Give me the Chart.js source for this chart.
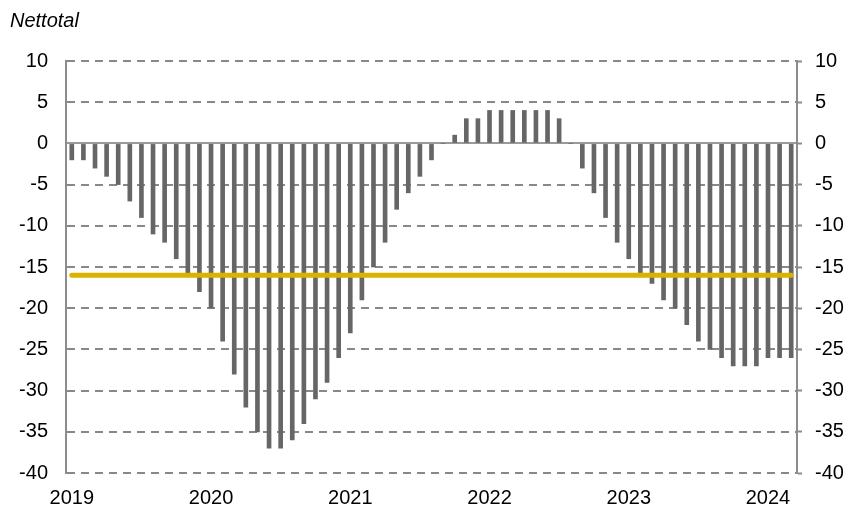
<!DOCTYPE html>
<html lang="sv">
<head>
    <meta charset="UTF-8">
    <title>Nettotal</title>
    <script src="https://cdn.jsdelivr.net/npm/chart.js@4.4.1/dist/chart.umd.min.js"></script>
    <style>
        body { margin: 0; background: #fff; }
        #wrap { width: 849px; height: 508px; }
    </style>
</head>
<body>
    <div id="wrap"><canvas id="myChart" width="849" height="508"></canvas></div>

    <script>
        // Monthly observations, Jan 2019 - Mar 2024
        const months = [
            '2019-01', '2019-02', '2019-03', '2019-04', '2019-05', '2019-06', '2019-07', '2019-08', '2019-09', '2019-10', '2019-11', '2019-12',
            '2020-01', '2020-02', '2020-03', '2020-04', '2020-05', '2020-06', '2020-07', '2020-08', '2020-09', '2020-10', '2020-11', '2020-12',
            '2021-01', '2021-02', '2021-03', '2021-04', '2021-05', '2021-06', '2021-07', '2021-08', '2021-09', '2021-10', '2021-11', '2021-12',
            '2022-01', '2022-02', '2022-03', '2022-04', '2022-05', '2022-06', '2022-07', '2022-08', '2022-09', '2022-10', '2022-11', '2022-12',
            '2023-01', '2023-02', '2023-03', '2023-04', '2023-05', '2023-06', '2023-07', '2023-08', '2023-09', '2023-10', '2023-11', '2023-12',
            '2024-01', '2024-02', '2024-03'
        ];

        const netTotal = [
            -2, -2, -3, -4, -5, -7, -9, -11, -12, -14, -16, -18,
            -20, -24, -28, -32, -35, -37, -37, -36, -34, -31, -29, -26,
            -23, -19, -15, -12, -8, -6, -4, -2, 0, 1, 3, 3,
            4, 4, 4, 4, 4, 4, 3, 0, -3, -6, -9, -12,
            -14, -16, -17, -19, -20, -22, -24, -25, -26, -27, -27, -27,
            -26, -26, -26
        ];

        // long-run average level (yellow line)
        const averageLevel = -16;

        const yMin = -40;
        const yMax = 10;
        const yStep = 5;

        const tickFont = { family: "'Liberation Sans', Arial, sans-serif", size: 20 };
        const gridGrey = '#888888';

        const ctx = document.getElementById('myChart').getContext('2d');

        new Chart(ctx, {
            type: 'bar',
            data: {
                labels: months,
                datasets: [
                    {
                        type: 'line',
                        label: 'Genomsnitt',
                        data: [
                            { x: months[0], y: averageLevel },
                            { x: months[months.length - 1], y: averageLevel }
                        ],
                        borderColor: '#d9b300',
                        borderWidth: 5,
                        borderCapStyle: 'round',
                        pointRadius: 0,
                        yAxisID: 'y',
                        order: 0
                    },
                    {
                        label: 'Nettotal',
                        data: netTotal,
                        backgroundColor: '#666666',
                        barThickness: 4,
                        yAxisID: 'y',
                        order: 1
                    }
                ]
            },
            options: {
                responsive: false,
                animation: false,
                layout: { padding: { left: 10, right: 0, top: 0, bottom: 0 } },
                plugins: {
                    legend: { display: false },
                    tooltip: { enabled: false },
                    title: {
                        display: true,
                        text: 'Nettotal',
                        align: 'start',
                        color: '#000',
                        font: { family: "'Liberation Sans', Arial, sans-serif", size: 20, style: 'italic', weight: 'normal' },
                        padding: { top: 9, bottom: 28 }
                    }
                },
                scales: {
                    x: {
                        offset: true,
                        grid: { display: false, drawTicks: false },
                        border: { display: false },
                        ticks: {
                            autoSkip: false,
                            maxRotation: 0,
                            padding: 13,
                            color: '#000',
                            font: tickFont,
                            callback: function (value, index) {
                                const m = months[index];
                                return m.endsWith('-01') ? m.slice(0, 4) : '';
                            }
                        },
                        afterFit: function (scale) { scale.height = 35; }
                    },
                    y: {
                        position: 'left',
                        min: yMin,
                        max: yMax,
                        ticks: { stepSize: yStep, padding: 18, color: '#000', font: tickFont },
                        grid: {
                            drawTicks: false,
                            lineWidth: 2,
                            color: function (c) { return c.tick && c.tick.value === 0 ? '#9a9a9a' : gridGrey; }
                        },
                        border: {
                            display: true,
                            color: '#8c8c8c',
                            width: 2,
                            dash: function (c) { return c.tick && c.tick.value === 0 ? [] : [8, 6]; }
                        },
                        afterFit: function (scale) { scale.width = 56; }
                    },
                    y2: {
                        position: 'right',
                        min: yMin,
                        max: yMax,
                        ticks: { stepSize: yStep, padding: 13, color: '#000', font: tickFont },
                        grid: {
                            drawOnChartArea: false,
                            drawTicks: true,
                            tickLength: 5,
                            tickColor: '#8c8c8c',
                            tickWidth: 2
                        },
                        border: { display: true, color: '#8c8c8c', width: 2 },
                        afterFit: function (scale) { scale.width = 52; }
                    }
                }
            }
        });
    </script>
</body>
</html>
